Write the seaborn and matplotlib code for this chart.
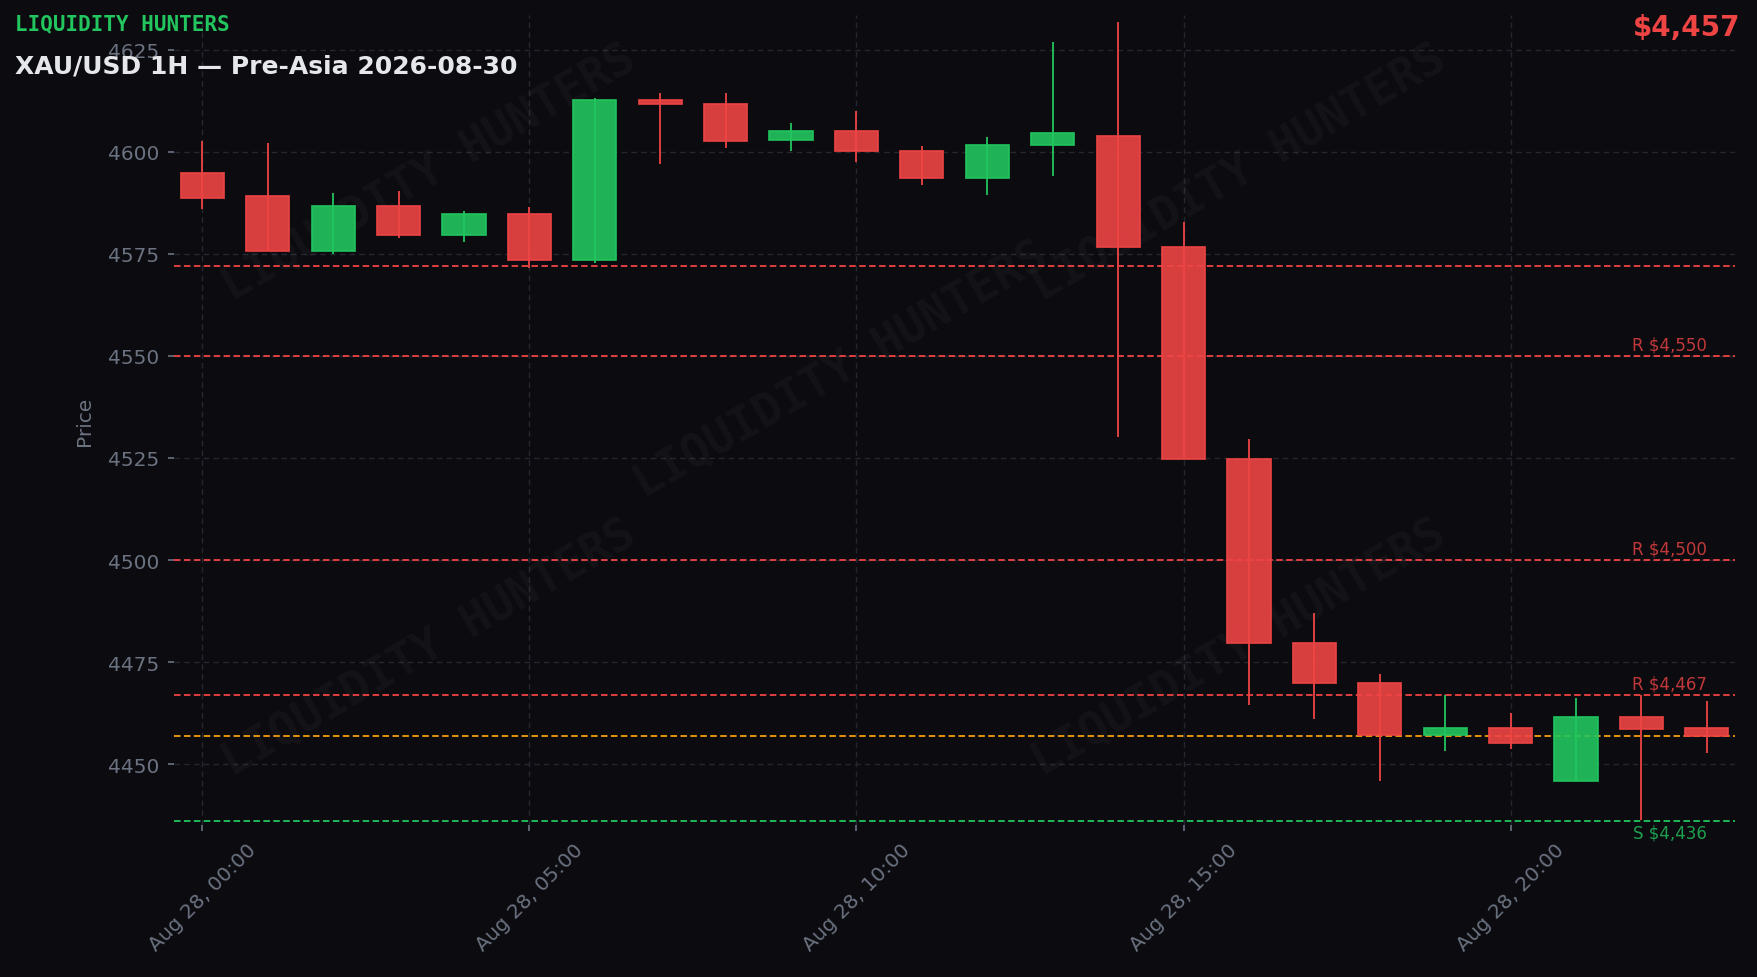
import pandas as pd
import numpy as np
import matplotlib
matplotlib.use("Agg")
import matplotlib.pyplot as plt
import matplotlib.dates as mdates
import seaborn as sns

# hourly candles, Aug 28 00:00 .. 23:00
times = pd.date_range("2026-08-28 00:00", periods=24, freq="h")
opens = [4594.8, 4589.1, 4575.8, 4586.7, 4579.7, 4584.7, 4573.4, 4612.7, 4611.8, 4603.0, 4605.2, 4600.3,
         4593.7, 4601.6, 4603.8, 4576.6, 4524.7, 4479.7, 4469.8, 4457.1, 4458.8, 4445.9, 4461.5, 4458.8]
highs = [4602.7, 4602.2, 4590.0, 4590.4, 4585.5, 4586.4, 4613.2, 4614.5, 4614.3, 4607.0, 4610.0, 4601.4,
         4603.6, 4627.0, 4631.9, 4582.7, 4529.7, 4487.1, 4472.0, 4467.0, 4462.6, 4466.2, 4467.0, 4465.4]
lows = [4585.9, 4575.6, 4575.0, 4578.8, 4578.0, 4571.6, 4572.7, 4596.9, 4601.0, 4600.3, 4597.5, 4591.8,
        4589.3, 4594.0, 4530.2, 4524.7, 4464.6, 4461.0, 4445.9, 4453.3, 4453.6, 4445.9, 4436.3, 4452.7]
closes = [4588.8, 4575.8, 4586.7, 4579.7, 4584.7, 4573.4, 4612.7, 4611.6, 4602.7, 4605.2, 4600.3, 4593.7,
          4601.6, 4604.7, 4576.6, 4524.7, 4479.7, 4469.8, 4457.1, 4458.8, 4455.2, 4461.5, 4458.5, 4457.0]

# key levels
level_prices = [4572, 4550, 4500, 4467, 4457, 4436]
level_labels = ["", "R $4,550", "R $4,500", "R $4,467", "", "S $4,436"]
level_kinds = ["R", "R", "R", "R", "P", "S"]

df = pd.DataFrame({"time": times, "open": opens, "high": highs, "low": lows, "close": closes})

BG = "#0b0b10"
GREEN = "#22c55e"
RED = "#ef4444"
ORANGE = "#f59e0b"
GRAY = "#6b7280"

sns.set_style("dark", {"axes.facecolor": BG, "figure.facecolor": BG})
plt.rcParams["font.family"] = ["DejaVu Sans"]

fig, ax = plt.subplots(figsize=(17.58, 9.78), dpi=100)
fig.subplots_adjust(left=0.099, right=0.987, bottom=0.155, top=0.984)
ax.set_facecolor(BG)

up = df["close"] >= df["open"]
cols = np.where(up, GREEN, RED)
w = 0.66 / 24

# wicks
ax.vlines(df["time"], df["low"], df["high"], colors=cols, linewidth=1.3, zorder=3)
# bodies
bottom = df[["open", "close"]].min(axis=1)
height = (df["close"] - df["open"]).abs().clip(lower=0.4)
ax.bar(df["time"], height, bottom=bottom, width=w, color=cols, alpha=0.9,
       edgecolor=cols, linewidth=1.3, zorder=4)

# levels
kind_color = {"R": RED, "P": ORANGE, "S": GREEN}
for p, lab, k in zip(level_prices, level_labels, level_kinds):
    c = kind_color[k]
    ax.axhline(p, color=c, linewidth=1.3, linestyle=(0, (3.6, 1.9)), zorder=2)
    if lab:
        ax.text(df["time"].iloc[-1], p + (0.6 if k == "R" else -0.6), lab, color=c, alpha=0.8,
                fontsize=12, ha="right", va="bottom" if k == "R" else "top", zorder=5)

# watermarks
for wx, wy in [(0.163, 0.805), (0.427, 0.563), (0.682, 0.805), (0.163, 0.22), (0.682, 0.22)]:
    ax.text(wx, wy, "LIQUIDITY HUNTERS", transform=ax.transAxes, rotation=30, fontsize=33,
            family="DejaVu Sans Mono", fontweight="bold", color="white", alpha=0.035,
            ha="center", va="center", zorder=1)

ax.set_ylim(4435, 4633.6)
ax.set_xlim(times[0] - pd.Timedelta(minutes=26), times[-1] + pd.Timedelta(minutes=26))
ax.set_yticks([4450, 4475, 4500, 4525, 4550, 4575, 4600, 4625])
ax.xaxis.set_major_locator(mdates.HourLocator(byhour=[0, 5, 10, 15, 20]))
ax.xaxis.set_major_formatter(mdates.DateFormatter("%b %d, %H:%M"))
ax.grid(True, color="#25272f", linestyle=(0, (4, 3)), linewidth=1.0)
for s in ax.spines.values():
    s.set_visible(False)
ax.tick_params(axis="both", colors=GRAY, labelsize=14.5, length=4.5, width=1.2, pad=6,
               bottom=True, left=True)
plt.setp(ax.get_xticklabels(), rotation=45, ha="center", rotation_mode="default")
ax.set_ylabel("Price", color=GRAY, fontsize=14.5, labelpad=10)
ax.set_xlabel("")

fig.text(0.0085, 0.975, "LIQUIDITY HUNTERS", color=GREEN, fontsize=15, fontweight="bold",
         family="DejaVu Sans Mono", va="center", ha="left")
fig.text(0.0085, 0.932, "XAU/USD 1H \u2014 Pre-Asia 2026-08-30", color="#e5e7eb", fontsize=18,
         fontweight="bold", va="center", ha="left")
fig.text(0.99, 0.971, "$4,457", color=RED, fontsize=20, fontweight="bold", va="center", ha="right")

fig.savefig("out.png", dpi=100, facecolor=BG)
